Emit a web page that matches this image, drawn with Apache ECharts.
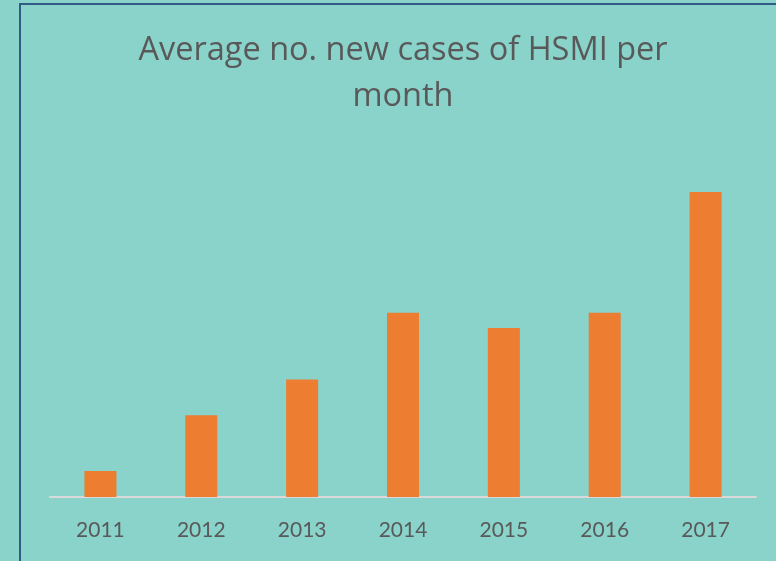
<!DOCTYPE html>
<html>
<head>
<meta charset="utf-8">
<script src="https://cdn.jsdelivr.net/npm/echarts@6/dist/echarts.min.js"></script>
<style>
  html, body { margin: 0; padding: 0; background: #89D3CA; }
  #main { width: 776px; height: 561px; }
</style>
</head>
<body>
<div id="main"></div>
<script>
  var years = ['2011', '2012', '2013', '2014', '2015', '2016', '2017'];
  var cases = [0.85, 2.68, 3.85, 6.04, 5.54, 6.04, 10.0];

  var myChart = echarts.init(document.getElementById('main'));
  var option = {
    backgroundColor: '#89D3CA',
    animation: false,
    title: {
      text: 'Average no. new cases of HSMI per\nmonth',
      left: 398,
      textAlign: 'center',
      top: 23,
      textStyle: {
        fontFamily: 'Open Sans',
        fontSize: 32.5,
        fontWeight: 'normal',
        color: '#595959',
        lineHeight: 46
      }
    },
    graphic: [{
      type: 'rect',
      silent: true,
      shape: { x: 20, y: 4, width: 800, height: 600 },
      style: { fill: 'none', stroke: '#2F5B86', lineWidth: 2 }
    }],
    grid: {
      left: 50,
      right: 20,
      top: 131,
      bottom: 64
    },
    xAxis: {
      type: 'category',
      data: years,
      axisLine: { lineStyle: { color: '#D9D9D9', width: 2 } },
      axisTick: { show: false },
      axisLabel: {
        margin: 23,
        fontFamily: 'Lato',
        fontSize: 21,
        color: '#595959'
      }
    },
    yAxis: {
      type: 'value',
      min: 0,
      max: 12,
      show: false,
      splitLine: { show: false }
    },
    series: [{
      name: 'Average no. new cases',
      type: 'bar',
      barWidth: 32,
      itemStyle: { color: '#ED7D31' },
      data: cases
    }]
  };
  myChart.setOption(option);
</script>
</body>
</html>
